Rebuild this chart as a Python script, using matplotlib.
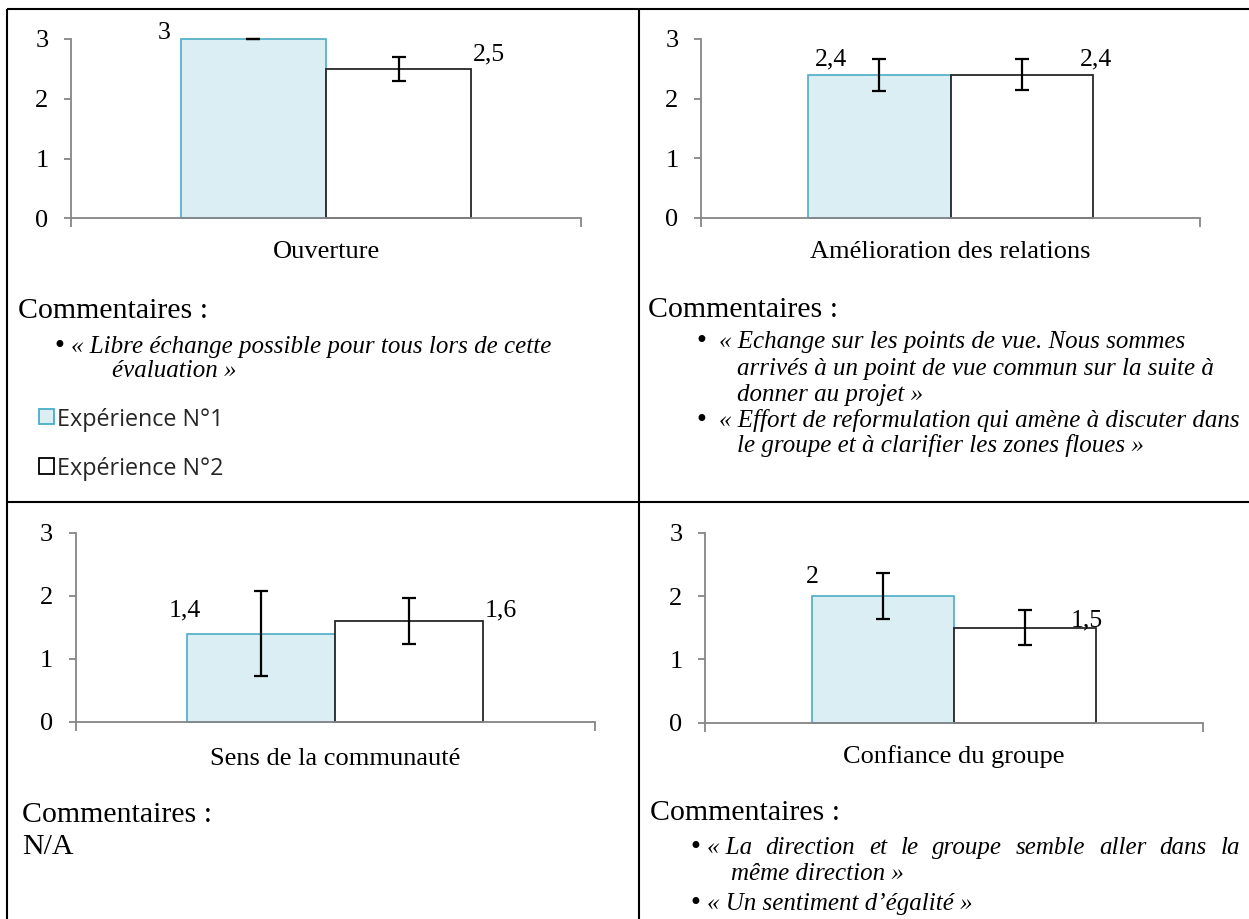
import matplotlib
matplotlib.use("Agg")
import matplotlib.pyplot as plt
from matplotlib.patches import Rectangle

# ---------------- data ----------------
categories = ["Ouverture", "Amélioration des relations",
              "Sens de la communauté", "Confiance du groupe"]
series_names = ["Expérience N°1", "Expérience N°2"]
exp1_values = [3.0, 2.4, 1.4, 2.0]
exp2_values = [2.5, 2.4, 1.6, 1.5]
exp1_errors = [0.0, 0.27, 0.67, 0.36]
exp2_errors = [0.2, 0.26, 0.37, 0.28]
exp1_labels = ["3", "2,4", "1,4", "2"]
exp2_labels = ["2,5", "2,4", "1,6", "1,5"]
y_ticks = [0, 1, 2, 3]
y_tick_labels = ["0", "1", "2", "3"]

comment_title = "Commentaires :"
comments_tl = [["« Libre échange possible pour tous lors de cette", "évaluation »"]]
comments_tr = [["« Echange sur les points de vue. Nous sommes",
                "arrivés à un point de vue commun sur la suite à",
                "donner au projet »"],
               ["« Effort de reformulation qui amène à discuter dans",
                "le groupe et à clarifier les zones floues »"]]
comment_bl = "N/A"
comments_br = [["« La direction et le groupe semble aller dans la", "même direction »"],
               ["« Un sentiment d’égalité »"]]

# ---------------- style / layout ----------------
W, H = 1249, 919
SERIF = "Liberation Serif"
BLUE_FILL = "#DAEEF3"
BLUE_EDGE = "#4BACC6"
WHITE_EDGE = "#262626"
AXIS_COL = "#868686"
BW = 0.285

fig = plt.figure(figsize=(W / 100, H / 100), dpi=100)
fig.patch.set_facecolor("white")

# overlay in pixel coordinates (table lines, comments, legend)
ov = fig.add_axes([0, 0, 1, 1])
ov.set_xlim(0, W)
ov.set_ylim(H, 0)
ov.axis("off")
ov.patch.set_alpha(0)

# table borders
tkw = dict(color="black", lw=1.5, solid_capstyle="butt")
ov.plot([7, 7], [9, H], **tkw)
ov.plot([639, 639], [9, H], **tkw)
ov.plot([7, W], [9, 9], **tkw)
ov.plot([7, W], [502, 502], **tkw)

# chart axes rectangles: (left, top, right, bottom) in pixels
ax_rects = [(71, 39, 581, 218.3), (701, 39, 1200, 218),
            (75.5, 532.7, 595, 721.7), (705, 532.7, 1203, 722.7)]
cat_label_offset = [40, 39.5, 43, 40.6]
# value label offsets (dx, dy) in pixels, relative to outer bar corner
lab1_off = [(-16, 0), (23, 9.3), (-2, 16.6), (0, 12.7)]
lab2_off = [(17.5, 8.8), (3, 9.3), (17, 4.7), (-9, 1.3)]

for i, (l, t, r, b) in enumerate(ax_rects):
    ax = fig.add_axes([l / W, 1 - b / H, (r - l) / W, (b - t) / H])
    ax.patch.set_alpha(0)
    x1 = 0.5 - BW / 2
    x2 = 0.5 + BW / 2
    ax.bar([x1], [exp1_values[i]], width=BW, color=BLUE_FILL,
           edgecolor=BLUE_EDGE, linewidth=1.2, clip_on=False, zorder=2)
    ax.bar([x2], [exp2_values[i]], width=BW, color="white",
           edgecolor=WHITE_EDGE, linewidth=1.3, clip_on=False, zorder=2)
    for xx, vv, ee in ((x1, exp1_values[i], exp1_errors[i]),
                       (x2, exp2_values[i], exp2_errors[i])):
        eb = ax.errorbar([xx], [vv], yerr=[ee], fmt="none", ecolor="black",
                         elinewidth=1.6, capsize=5, capthick=1.6, zorder=3)
        for art in eb.lines[1] + eb.lines[2]:
            art.set_clip_on(False)
    ax.set_xlim(0, 1)
    ax.set_ylim(0, 3)
    for s in ("top", "right"):
        ax.spines[s].set_visible(False)
    for s in ("left", "bottom"):
        ax.spines[s].set_color(AXIS_COL)
        ax.spines[s].set_linewidth(1.3)
    ax.set_yticks(y_ticks)
    ax.set_yticklabels(y_tick_labels, fontfamily=SERIF, fontsize=19)
    ax.set_xticks([0, 1])
    ax.set_xticklabels(["", ""])
    ax.tick_params(axis="y", direction="out", length=4.7, width=1.3,
                   color=AXIS_COL, pad=11.5, labelcolor="black")
    ax.tick_params(axis="x", direction="out", length=6.5, width=1.3,
                   color=AXIS_COL)
    ax.annotate(categories[i], xy=(0.5, 0), xycoords="axes fraction",
                xytext=(0, -cat_label_offset[i]), textcoords="offset pixels",
                ha="center", va="baseline", fontfamily=SERIF, fontsize=19)
    # value labels
    ax.annotate(exp1_labels[i], xy=(x1 - BW / 2, exp1_values[i]),
                xytext=lab1_off[i], textcoords="offset pixels",
                ha="center", va="baseline", fontfamily=SERIF, fontsize=18.5,
                annotation_clip=False)
    ax.annotate(exp2_labels[i], xy=(x2 + BW / 2, exp2_values[i]),
                xytext=lab2_off[i], textcoords="offset pixels",
                ha="center", va="baseline", fontfamily=SERIF, fontsize=18.5,
                annotation_clip=False)

# ---------------- comments ----------------
TITLE_FS = 21.5
BUL_FS = 18


def title(x, y, s):
    ov.text(x, y, s, fontfamily=SERIF, fontsize=TITLE_FS, ha="left", va="baseline")


def line(x, y, s):
    ov.text(x, y, s, fontfamily=SERIF, fontsize=BUL_FS, style="italic",
            ha="left", va="baseline")


def bullet(x, y):
    ov.text(x, y, "•", fontfamily="DejaVu Sans", fontsize=17, ha="left",
            va="baseline")


# top-left
title(18, 318.5, comment_title)
bullet(53, 353)
line(71.5, 353, comments_tl[0][0])
line(112, 376.7, comments_tl[0][1])

# legend (top-left cell)
leg_y = [425.7, 475]
leg_sq_center = [416.5, 466]
leg_styles = [(BLUE_FILL, BLUE_EDGE), ("white", "black")]
for k in range(2):
    fc, ec = leg_styles[k]
    ov.add_patch(Rectangle((39, leg_sq_center[k] - 8), 15.5, 15.5,
                           facecolor=fc, edgecolor=ec, lw=1.3))
    ov.text(57, leg_y[k], series_names[k], fontfamily="Open Sans",
            fontsize=16.8, color="#262626", ha="left", va="baseline")

# top-right
title(648, 316.7, comment_title)
tr_y = [[348.3, 375, 400.7], [426.7, 451.7]]
for c, ys in zip(comments_tr, tr_y):
    bullet(695, ys[0])
    line(719, ys[0], c[0])
    for s, yy in zip(c[1:], ys[1:]):
        line(737, yy, s)

# bottom-left
title(22, 821.7, comment_title)
ov.text(22, 854.3, comment_bl, fontfamily=SERIF, fontsize=TITLE_FS,
        ha="left", va="baseline")

# bottom-right
title(650, 820, comment_title)
renderer = fig.canvas.get_renderer()


def justified(x0, x1, y, s):
    words = s.replace("« ", "«\u00a0").split(" ")
    arts = []
    for w in words:
        a = ov.text(0, y, w, fontfamily=SERIF, fontsize=BUL_FS, style="italic",
                    ha="left", va="baseline")
        arts.append(a)
    widths = [a.get_window_extent(renderer).width for a in arts]
    gap = (x1 - x0 - sum(widths)) / (len(arts) - 1)
    xx = x0
    for a, wd in zip(arts, widths):
        a.set_x(xx)
        xx += wd + gap


bullet(689, 854.3)
justified(707, 1240, 854.3, comments_br[0][0])
line(731, 880, comments_br[0][1])
bullet(689, 910)
line(707, 910, comments_br[1][0])

fig.savefig("out.png", dpi=100, facecolor="white")
